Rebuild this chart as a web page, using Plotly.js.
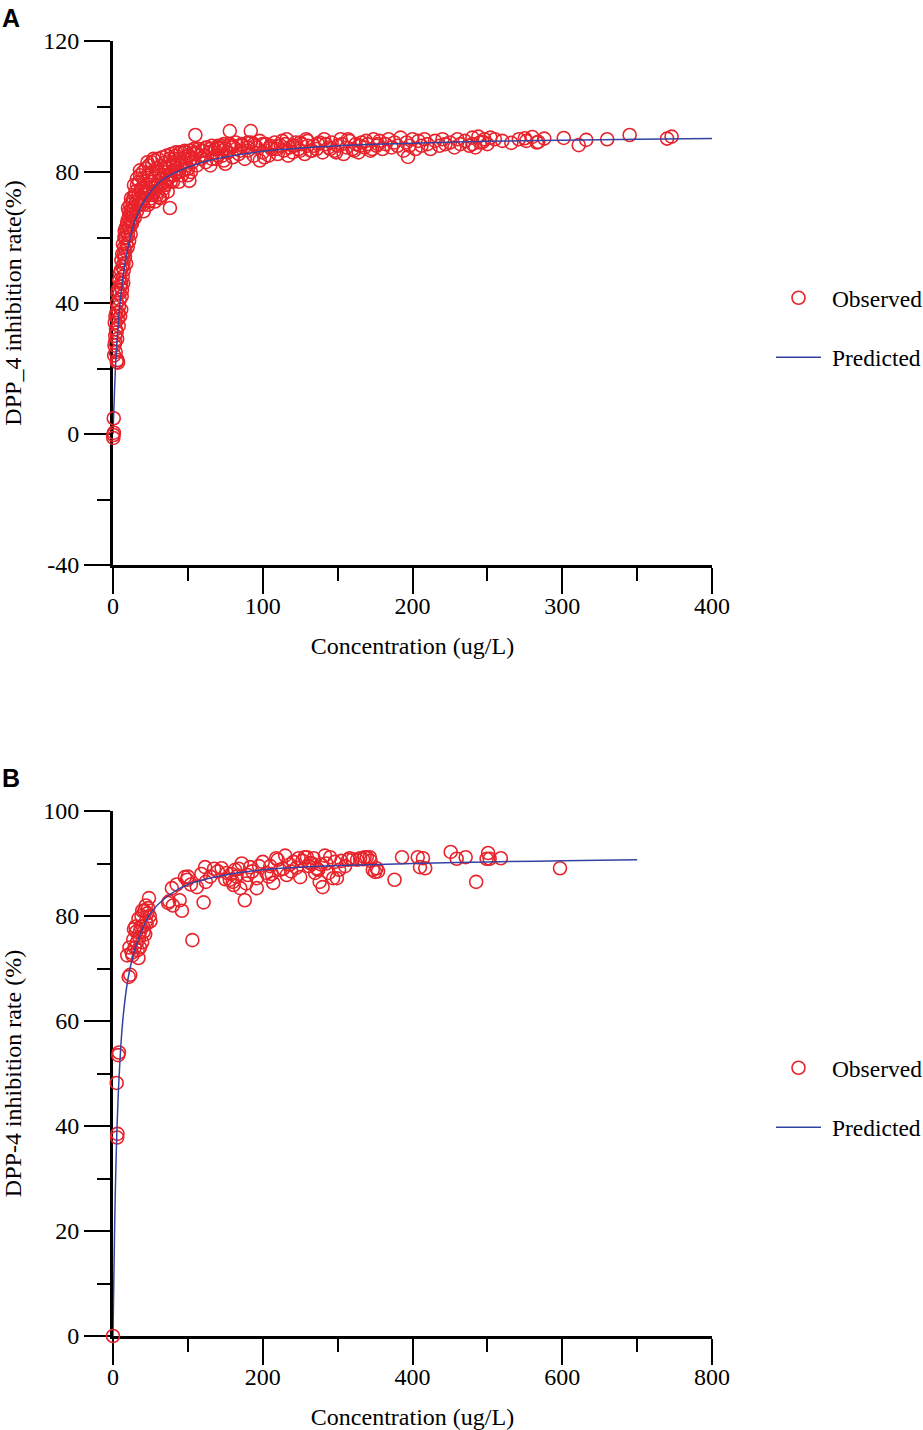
<!DOCTYPE html>
<html>
<head>
<meta charset="utf-8">
<script src="https://cdn.plot.ly/plotly-3.0.1.min.js"></script>
<style>html,body{margin:0;padding:0;background:#fff;}#chart{width:923px;height:1430px;}</style>
</head>
<body>
<div id="chart"></div>
<script>
// ---------- Panel A: observed ----------
var obsA_conc = [
  0.2,0.3,0.5,0.6,2.5,3.0,3.4,1.0,1.5,2.0,
  1.2,2.8,3.2,2.2,3.8,4.0,4.5,3.0,5.0,4.2,
  5.5,6.0,5.2,6.5,7.0,6.2,7.5,8.0,8.5,7.8,
  9.0,9.5,10.0,10.5,11.0,12.0,11.5,13.0,13.5,14.0,
  15,15.5,16,17,17.5,18,19,20,21,22,
  23,24,25,26,27,28,29,30,31,32,
  33,34,35,36,37,38,39,40,42,44,
  46,48,50,52,54,56,58,60,62,64,
  4.8,5.8,6.8,7.2,8.2,8.8,9.2,9.8,10.2,10.8,
  11.2,11.8,12.5,12.8,13.2,14.5,14.8,16.5,18.5,19.5,
  20.5,21.5,22.5,23.5,24.5,25.5,26.5,27.5,28.5,29.5,
  30.5,31.5,32.5,34.5,35.5,36.5,38.5,41,43,45,
  55,78,92,51,38,31,197,23,18,27,
  66,68,70,72,74,76,78,80,82,84,
  86,88,90,92,94,96,98,100,102,104,
  41,43,45,47,49,51,53,55,57,59,
  61,63,65,67,69,71,73,75,77,79,
  106,108,110,112,114,116,118,120,122,124,
  126,128,130,132,134,136,138,140,142,144,
  146,148,150,152,154,156,158,160,162,164,
  166,168,170,172,174,176,178,180,182,184,
  186,188,190,192,194,196,198,200,202,204,
  206,208,210,212,215,218,220,222,225,228,
  230,232,235,238,240,242,245,248,250,252,
  255,266,271,276,280,284,288,301,311,316,
  330,345,370,373,260,275,283,240,244,247,
  14,16,18,20,22,24,26,28,30,32,
  34,36,38,40,42,44,46,48,50,52,
  10,12,14,16,18,20,22,24,26,28,
  30,33,36,39,42,45,48,51,54,57,
  62,66,70,74,78,82,86,90,94,98,
  101,105,109,113,117,121,125,129,133,137,
  141,145,149,153,157,161,165,169,173,177,
  1.8,2.4,3.6,4.4,5.4,6.4,7.4,1.4,2.6,3.3,
  0.8,1.6,4.6,5.6,6.6,7.6,8.6,9.6,10.6,11.6,
  35,40,45,50,55,60,65,70,75,80,
  85,90,95,100,105,110,115,120,125,130
];
var obsA_rate = [
  -1.2,-0.3,4.8,0.4,22.0,22.6,21.8,27,30,32,
  34,29,35,37,33,39,41,43,45,47,
  38,44,50,48,52,55,57,54,60,62,
  58,64,61,66,63,68,70,65,72,69,
  74,71,76,73,77,70,75,78,72,76,
  79,74,77,80,75,78,81,76,79,82,
  73,80,83,78,81,84,79,82,85,80,
  83,86,81,84,87,82,85,86.5,83,86,
  36,42,46,50,56,52,62,57,63,59,
  67,61,64,71,68,66,73,70,74,71,
  68,74,73,70,79,72,77,74,76,73,
  80,72,78,76,80,74,77,79,83,82,
  91.3,92.5,92.5,77.3,69,72.4,84.6,83,80.5,84,
  84,87,85,88,83.5,86,88.5,84.5,87,85.5,
  88,84,86.5,89,85,87.5,83.5,86,88.5,85,
  84,81,86,84,82,85,83,85.5,87,84,
  85,87.5,82,86,84,87,85,82.5,86,87.5,
  87,89,85.5,88,86.5,90,87.5,86,89,87,
  88.5,85.5,89.5,86.5,88,87,89,86,88.5,87.5,
  89,86.5,88,90,85.5,87.5,89.5,87,88.5,86,
  89,87.5,88.5,86.5,90,88,89.5,87,88.5,90,
  87.5,89,88,90.5,86.5,89,88,90,87,89.5,
  88,90,88.5,87,89.5,88,90,88.5,89,87.5,
  90,88.5,89.5,88,90.5,87.5,89,90,88.5,90.5,
  90,88.9,90,89.5,90.7,89.2,90.2,90.4,88.2,89.8,
  90,91.3,90.2,90.8,89.5,90.3,89,88.5,90.8,89.2,
  67,68,72,70,74,71,73,71,74,76,
  75,77,79,77,80,77,79,81,79,80,
  69,72,76,78,79,80,81,82,83,83.5,
  84,84.5,85,85.5,86,86,86.5,86.5,87,87,
  87.5,88,88,88.5,88,89,88.5,89,88.5,89.5,
  84.5,88,87,89.5,85,88,86.5,90,86.5,88.5,
  90,87,86,88.5,90,86.5,88,89.5,87,88.5,
  25,31,37,43,46,51,55,28,40,44,
  24,36,49,53,58,60,63,65,68,65,
  81.5,83,84,85,86,86.5,87,87.5,87,88,
  86.5,87.5,88,88.5,87.5,88,88.5,88,89,88
];
// ---------- Panel A: predicted ----------
var predA_conc = [0,1,2,3,5,7,10,15,20,30,40,60,80,100,150,200,250,300,350,400];
var predA_rate = [0,13,23.5,30.5,41.5,49,57,65.5,70.5,76.5,79.5,83,85,86.3,88,88.8,89.4,89.7,90,90.2];

// ---------- Panel B: observed ----------
var obsB_conc = [
  0,4.9,7,8,6,5.5,21,23,19,22,
  25,27,29,31,33,35,37,39,26,30,
  32,34,36,38,40,42,44,46,48,41,
  43,45,47,49,28,34,39,36,44,50,
  73.6,78.6,92,96,99,89,106,121,123,124,
  112,85,80,100,104,118,130,135,140,75,
  145,152,156,161,170,176,172,183,192,192,
  150,158,165,168,180,186,195,160,163,178,
  200,205,214,220,223,232,241,250,256,263,
  210,218,227,236,245,253,208,230,238,248,
  270,276,280,290,296,299,314,326,336,343,
  347,352,259,272,294,316,339,350,266,285,
  305,310,320,330,268,278,288,283,302,334,
  376,386,407,410,417,451,459,471,485,501,
  503,499,518,597,414,354,344,274,262,212
];
var obsB_rate = [
  0,48.2,53.5,54,38.5,37.8,68.4,68.8,72.5,74,
  73,75.5,74,77,73.5,76,78,75,72.5,78,
  75,79.5,77,80,78,81,79,80.5,83.4,77,
  76.5,78.5,81.5,80,77.5,72,81,74,82,79,
  82.5,85.3,81,87.4,86.9,83,75.4,82.6,89.3,86.5,
  85.5,86,82,87.5,86,88,87.5,89,88.5,82.8,
  89.1,88.2,86.9,85.9,85.3,83,90,89.3,87.2,85.3,
  87,88,87.5,89,87.8,88.5,89.5,86.5,88.8,86.2,
  90.3,88.2,86.3,90.7,88.8,87.8,90.3,87.4,91.2,90.1,
  89.5,91,89,89.8,89.2,90.5,87.5,91.5,88.5,91,
  88.2,86.5,85.5,91.2,90.3,87.2,90.7,90.7,91.2,91.2,
  88.8,89.1,91.2,89.1,87.2,91,91.2,88.4,90,90,
  90.5,89.5,90.8,91,91,89.8,88.2,91.5,88.8,90.8,
  86.9,91.2,91.2,89.3,89.1,92.2,90.9,91.2,86.5,92,
  90.9,90.9,91,89.1,91,88.5,90.5,88.8,89.5,88
];
// ---------- Panel B: predicted ----------
var predB_conc = [0,1,2,3,5,8,13,20,30,50,75,100,150,200,300,400,500,600,700];
var predB_rate = [0,10,19,27,38,49,60,68,74,80.5,84,86,87.8,88.8,89.6,90,90.3,90.5,90.7];

// ---------- Axis ticks ----------
var ticksA_x = [0,100,200,300,400];
var ticksA_y = [-40,0,40,80,120];
var ticksB_x = [0,200,400,600,800];
var ticksB_y = [0,20,40,60,80,100];

var RED = '#e8232b', BLUE = '#3343a3';
var SERIF = '"Liberation Serif", "Times New Roman", serif';
var FS = 24;
var W = 923, H = 1430;

function markerTrace(x, y, xa, ya, lg) {
  return {x: x, y: y, xaxis: xa, yaxis: ya, type: 'scatter', mode: 'markers', name: '\u00a0Observed',
    legend: lg, legendgroup: lg + 'obs', cliponaxis: false,
    marker: {symbol: 'circle-open', size: 13, color: RED, line: {width: 1.6, color: RED}}};
}
function lineTrace(x, y, xa, ya, lg) {
  return {x: x, y: y, xaxis: xa, yaxis: ya, type: 'scatter', mode: 'lines', name: '\u00a0Predicted',
    legend: lg, legendgroup: lg + 'pred', cliponaxis: false,
    line: {color: BLUE, width: 1.5, shape: 'spline', smoothing: 1.0}};
}

var data = [
  markerTrace(obsA_conc, obsA_rate, 'x', 'y', 'legend'),
  lineTrace(predA_conc, predA_rate, 'x', 'y', 'legend'),
  markerTrace(obsB_conc, obsB_rate, 'x2', 'y2', 'legend2'),
  lineTrace(predB_conc, predB_rate, 'x2', 'y2', 'legend2')
];

function axisBase() {
  return {showgrid: false, zeroline: false, showline: true, linewidth: 3, linecolor: '#000',
    ticks: 'outside', ticklen: 26, tickwidth: 2, tickcolor: '#000', layer: 'below traces',
    automargin: false,
    tickfont: {family: SERIF, size: FS, color: '#000'}, fixedrange: true};
}
function xAxis(range, tickvals, minorDt, anchor, title) {
  var a = axisBase();
  a.range = range; a.tickmode = 'array'; a.tickvals = tickvals; a.ticktext = tickvals.map(String);
  a.domain = [113 / W, 712 / W]; a.anchor = anchor;
  a.ticklabelstandoff = -9;
  a.minor = {dtick: minorDt, tick0: 0, ticks: 'outside', ticklen: 13, tickwidth: 2, tickcolor: '#000', showgrid: false};
  a.title = {text: title, font: {family: SERIF, size: FS, color: '#000'}, standoff: 20};
  return a;
}
function yAxis(range, tickvals, minorDt, domain, anchor, title) {
  var a = axisBase();
  a.range = range; a.tickmode = 'array'; a.tickvals = tickvals; a.ticktext = tickvals.map(String);
  a.domain = domain; a.anchor = anchor;
  a.minor = {dtick: minorDt, tick0: 0, ticks: 'outside', ticklen: 13, tickwidth: 2, tickcolor: '#000', showgrid: false};
  a.title = {text: title, font: {family: SERIF, size: FS, color: '#000'}, standoff: 27};
  return a;
}

var legendStyle = function (top) {
  return {x: 771 / W, xanchor: 'left', y: 1 - top / H, yanchor: 'top', orientation: 'v',
    font: {family: SERIF, size: 23.5, color: '#000'}, bgcolor: 'rgba(0,0,0,0)', borderwidth: 0,
    tracegroupgap: 26, itemwidth: 45};
};

var layout = {
  width: W, height: H, margin: {l: 0, r: 0, t: 0, b: 0, autoexpand: false},
  paper_bgcolor: '#fff', plot_bgcolor: '#fff',
  showlegend: true,
  xaxis: xAxis([0, 400], ticksA_x, 50, 'y', 'Concentration (ug/L)'),
  yaxis: yAxis([-40, 120], ticksA_y, 20, [1 - 565 / H, 1 - 41 / H], 'x', 'DPP_4 inhibition rate(%)'),
  xaxis2: xAxis([0, 800], ticksB_x, 100, 'y2', 'Concentration (ug/L)'),
  yaxis2: yAxis([0, 100], ticksB_y, 10, [1 - 1336 / H, 1 - 811 / H], 'x2', 'DPP-4 inhibition rate (%)'),
  legend: legendStyle(276),
  legend2: legendStyle(1046),
  annotations: [
    {text: '<b>A</b>', xref: 'paper', yref: 'paper', x: 0 / W, y: 1 - 2 / H, xanchor: 'left', yanchor: 'top',
      showarrow: false, font: {family: '"Liberation Sans", Arial, sans-serif', size: 25, color: '#000'}},
    {text: '<b>B</b>', xref: 'paper', yref: 'paper', x: 0 / W, y: 1 - 762 / H, xanchor: 'left', yanchor: 'top',
      showarrow: false, font: {family: '"Liberation Sans", Arial, sans-serif', size: 25, color: '#000'}}
  ]
};

Plotly.newPlot('chart', data, layout, {displayModeBar: false, staticPlot: true});
</script>
</body>
</html>
